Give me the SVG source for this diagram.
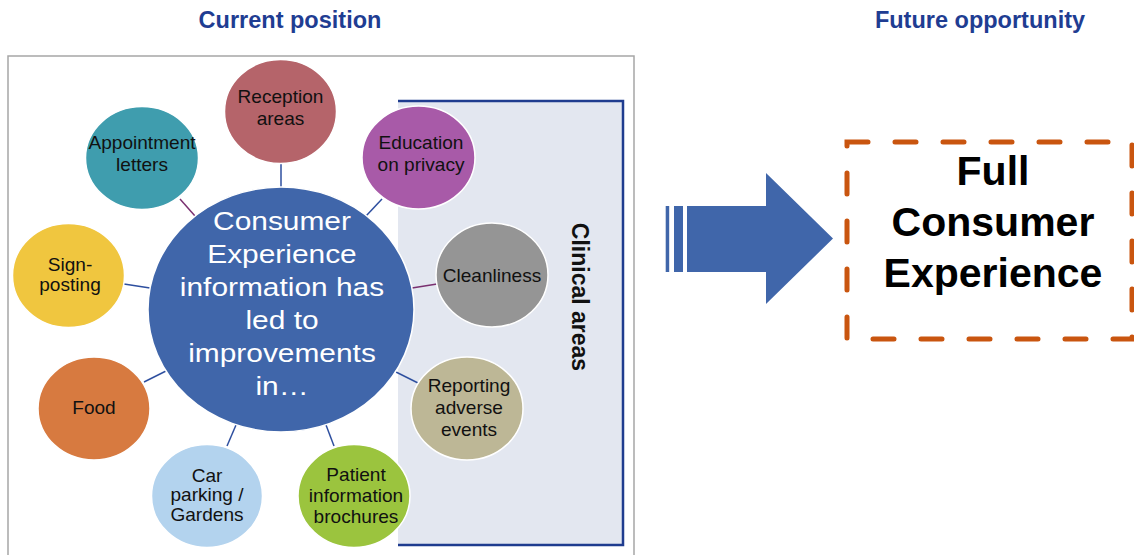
<svg xmlns="http://www.w3.org/2000/svg" width="1134" height="555" viewBox="0 0 1134 555">
<style>
.title{font-family:"Liberation Sans",Arial,sans-serif;font-weight:bold;font-size:23.5px;fill:#1F3D92;text-anchor:middle}
.sat{stroke:#FFFFFF;stroke-width:1.5}
.lbl{font-family:"Liberation Sans",Arial,sans-serif;font-size:17.5px;fill:#111111;text-anchor:middle}
.ctr{font-family:"Liberation Sans",Arial,sans-serif;font-size:26px;fill:#FFFFFF;text-anchor:middle}
.cb{stroke:#2E4F9F;stroke-width:1.5;fill:none}
.cp{stroke:#7A3070;stroke-width:1.5;fill:none}
.big{font-family:"Liberation Sans",Arial,sans-serif;font-weight:bold;font-size:41px;fill:#000000;text-anchor:middle}
</style>
<rect width="1134" height="555" fill="#FFFFFF"/>
<text class="title" x="290" y="28">Current position</text>
<text class="title" x="980" y="28">Future opportunity</text>
<rect id="frame" x="8" y="56" width="626" height="520" fill="none" stroke="#A6A6A6" stroke-width="1.5"/>
<g id="clinical">
<rect x="398" y="101" width="225" height="444" fill="#E3E7F0"/>
<path d="M398 101 H623 V545 H398" fill="none" stroke="#1F3C8F" stroke-width="2.5"/>
<text transform="translate(572 297) rotate(90)" font-family="Liberation Sans, Arial, sans-serif" font-weight="bold" font-size="23" fill="#111111" text-anchor="middle">Clinical areas</text>
</g>
<g id="connectors">
<line class="cb" x1="281" y1="163" x2="281" y2="188"/>
<line class="cp" x1="180" y1="199" x2="195" y2="216"/>
<line class="cb" x1="382" y1="199" x2="366" y2="216"/>
<line class="cb" x1="124" y1="284" x2="150" y2="288"/>
<line class="cp" x1="412" y1="288" x2="437" y2="284"/>
<line class="cb" x1="396" y1="372" x2="418" y2="383"/>
<line class="cb" x1="144" y1="382" x2="166" y2="371"/>
<line class="cb" x1="227" y1="446" x2="236" y2="425"/>
<line class="cb" x1="334" y1="446" x2="326" y2="425"/>
</g>
<g id="center">
<ellipse cx="281" cy="309.5" rx="133" ry="122.5" fill="#4066AA" stroke="#FFFFFF" stroke-width="1.5"/>
<text class="ctr" transform="translate(282 0) scale(1.15 1)"><tspan x="0" y="230">Consumer</tspan><tspan x="0" y="263">Experience</tspan><tspan x="0" y="296">information has</tspan><tspan x="0" y="329">led to</tspan><tspan x="0" y="362">improvements</tspan><tspan x="0" y="395">in…</tspan></text>
</g>
<g id="reception">
<ellipse class="sat" cx="280.5" cy="111.5" rx="56" ry="52" fill="#B5646A"/>
<text class="lbl" transform="translate(280.5 0) scale(1.09 1)"><tspan x="0" y="103">Reception</tspan><tspan x="0" y="125">areas</tspan></text>
</g>
<g id="appointment">
<ellipse class="sat" cx="142" cy="158" rx="56.5" ry="51.5" fill="#3F9DAE"/>
<text class="lbl" transform="translate(142 0) scale(1.09 1)"><tspan x="0" y="149">Appointment</tspan><tspan x="0" y="171">letters</tspan></text>
</g>
<g id="education">
<ellipse class="sat" cx="418.5" cy="157.5" rx="56.5" ry="51.5" fill="#A85AA8"/>
<text class="lbl" transform="translate(421 0) scale(1.09 1)"><tspan x="0" y="149">Education</tspan><tspan x="0" y="171">on privacy</tspan></text>
</g>
<g id="signposting">
<ellipse class="sat" cx="68.5" cy="275.5" rx="56" ry="52" fill="#F0C63F"/>
<text class="lbl" transform="translate(70 0) scale(1.09 1)"><tspan x="0" y="271.5">Sign-</tspan><tspan x="0" y="291.5">posting</tspan></text>
</g>
<g id="cleanliness">
<ellipse class="sat" cx="492" cy="275" rx="56" ry="52" fill="#959595"/>
<text class="lbl" transform="translate(492 0) scale(1.09 1)"><tspan x="0" y="282">Cleanliness</tspan></text>
</g>
<g id="food">
<ellipse class="sat" cx="94" cy="408.5" rx="56" ry="51.5" fill="#D77A40"/>
<text class="lbl" transform="translate(94 0) scale(1.09 1)"><tspan x="0" y="414.5">Food</tspan></text>
</g>
<g id="reporting">
<ellipse class="sat" cx="467" cy="408.5" rx="56" ry="51.5" fill="#BDB796"/>
<text class="lbl" transform="translate(469 0) scale(1.09 1)"><tspan x="0" y="392">Reporting</tspan><tspan x="0" y="414">adverse</tspan><tspan x="0" y="436">events</tspan></text>
</g>
<g id="carparking">
<ellipse class="sat" cx="207" cy="496" rx="55.5" ry="51.5" fill="#B3D3EE"/>
<text class="lbl" transform="translate(207 0) scale(1.09 1)"><tspan x="0" y="482">Car</tspan><tspan x="0" y="501.5">parking /</tspan><tspan x="0" y="521">Gardens</tspan></text>
</g>
<g id="patient">
<ellipse class="sat" cx="354" cy="496" rx="56" ry="51.5" fill="#9BC43E"/>
<text class="lbl" transform="translate(356 0) scale(1.09 1)"><tspan x="0" y="481">Patient</tspan><tspan x="0" y="502">information</tspan><tspan x="0" y="523">brochures</tspan></text>
</g>
<g id="arrow" fill="#4066AA">
<rect x="665.7" y="206" width="3.5" height="66"/>
<rect x="674" y="206" width="9" height="66"/>
<polygon points="687,206 766,206 766,173 833,238.5 766,304 766,272 687,272"/>
</g>
<g id="future">
<rect x="847" y="142" width="285" height="197" fill="none" stroke="#C9550F" stroke-width="5" stroke-linecap="round" stroke-dasharray="21 27"/>
<text class="big"><tspan x="993" y="185">Full</tspan><tspan x="993" y="236">Consumer</tspan><tspan x="993" y="287">Experience</tspan></text>
</g>
</svg>
